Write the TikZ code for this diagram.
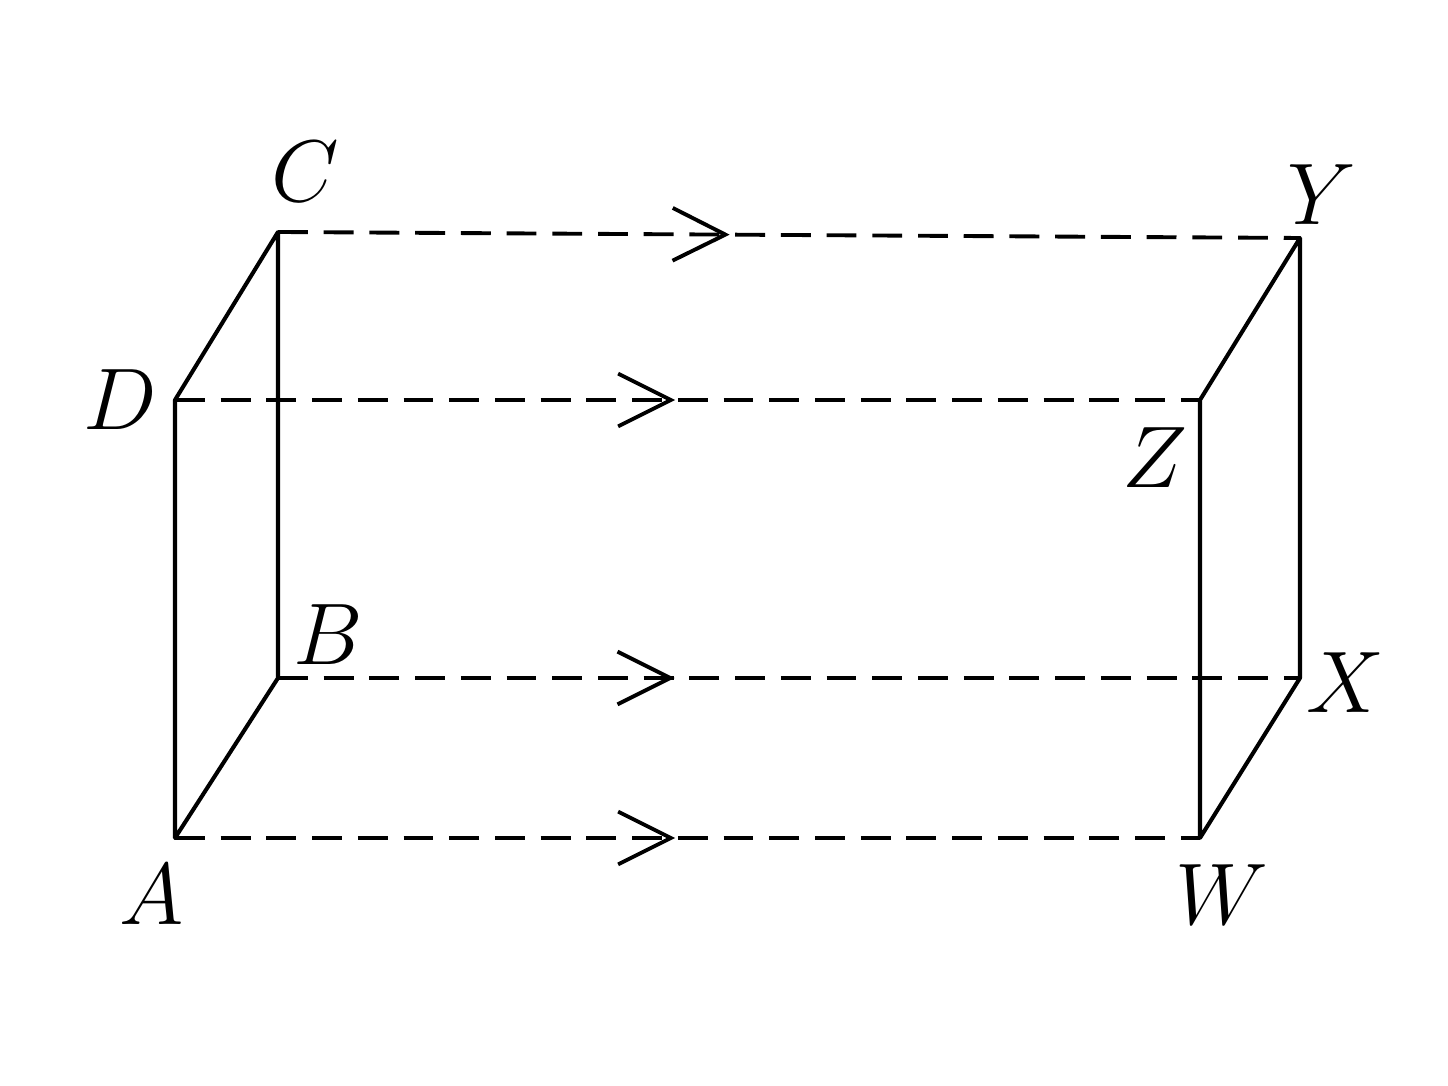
\documentclass[tikz,border=0pt]{standalone}
\usetikzlibrary{arrows.meta,decorations.markings}
\begin{document}
\begin{tikzpicture}[x=0.01cm,y=-0.01cm,
  edge/.style={line width=1.15pt,line join=round,line cap=round},
  dashed line/.style={line width=1.1pt,dash pattern=on 8.5pt off 4.5pt},
  mid/.style={postaction={decorate},decoration={markings,mark=at position #1 with {\arrow{Straight Barb[length=15pt,width=15pt,line width=1.1pt]}}}},
  lab/.style={font=\fontsize{23}{27}\selectfont}]
\useasboundingbox (0,0) rectangle (1448,1086);
\coordinate (A) at (175,838); \coordinate (B) at (278,678);
\coordinate (C) at (278,232); \coordinate (D) at (175,400);
\coordinate (W) at (1200,838); \coordinate (X) at (1300,678);
\coordinate (Y) at (1300,238); \coordinate (Z) at (1200,400);
\draw[dashed line,mid=0.442] (C) -- (Y);
\draw[dashed line,mid=0.488] (D) -- (Z);
\draw[dashed line,mid=0.388] (B) -- (X);
\draw[dashed line,mid=0.488] (A) -- (W);
\draw[edge] (B) -- (A) -- (D) -- (C) -- (B);
\draw[edge] (X) -- (W) -- (Z) -- (Y) -- (X);
\node[lab] (lC) at (305,172) {$C$};
\node[lab] (lY) at (1322,195) {$Y$};
\node[lab] (lD) at (120,400) {$D$};
\node[lab] (lZ) at (1155,458) {$Z$};
\node[lab] (lB) at (328,635) {$B$};
\node[lab] (lX) at (1345,683) {$X$};
\node[lab] (lA) at (152,895) {$A$};
\node[lab] (lW) at (1222,895) {$W$};
\end{tikzpicture}
\end{document}
